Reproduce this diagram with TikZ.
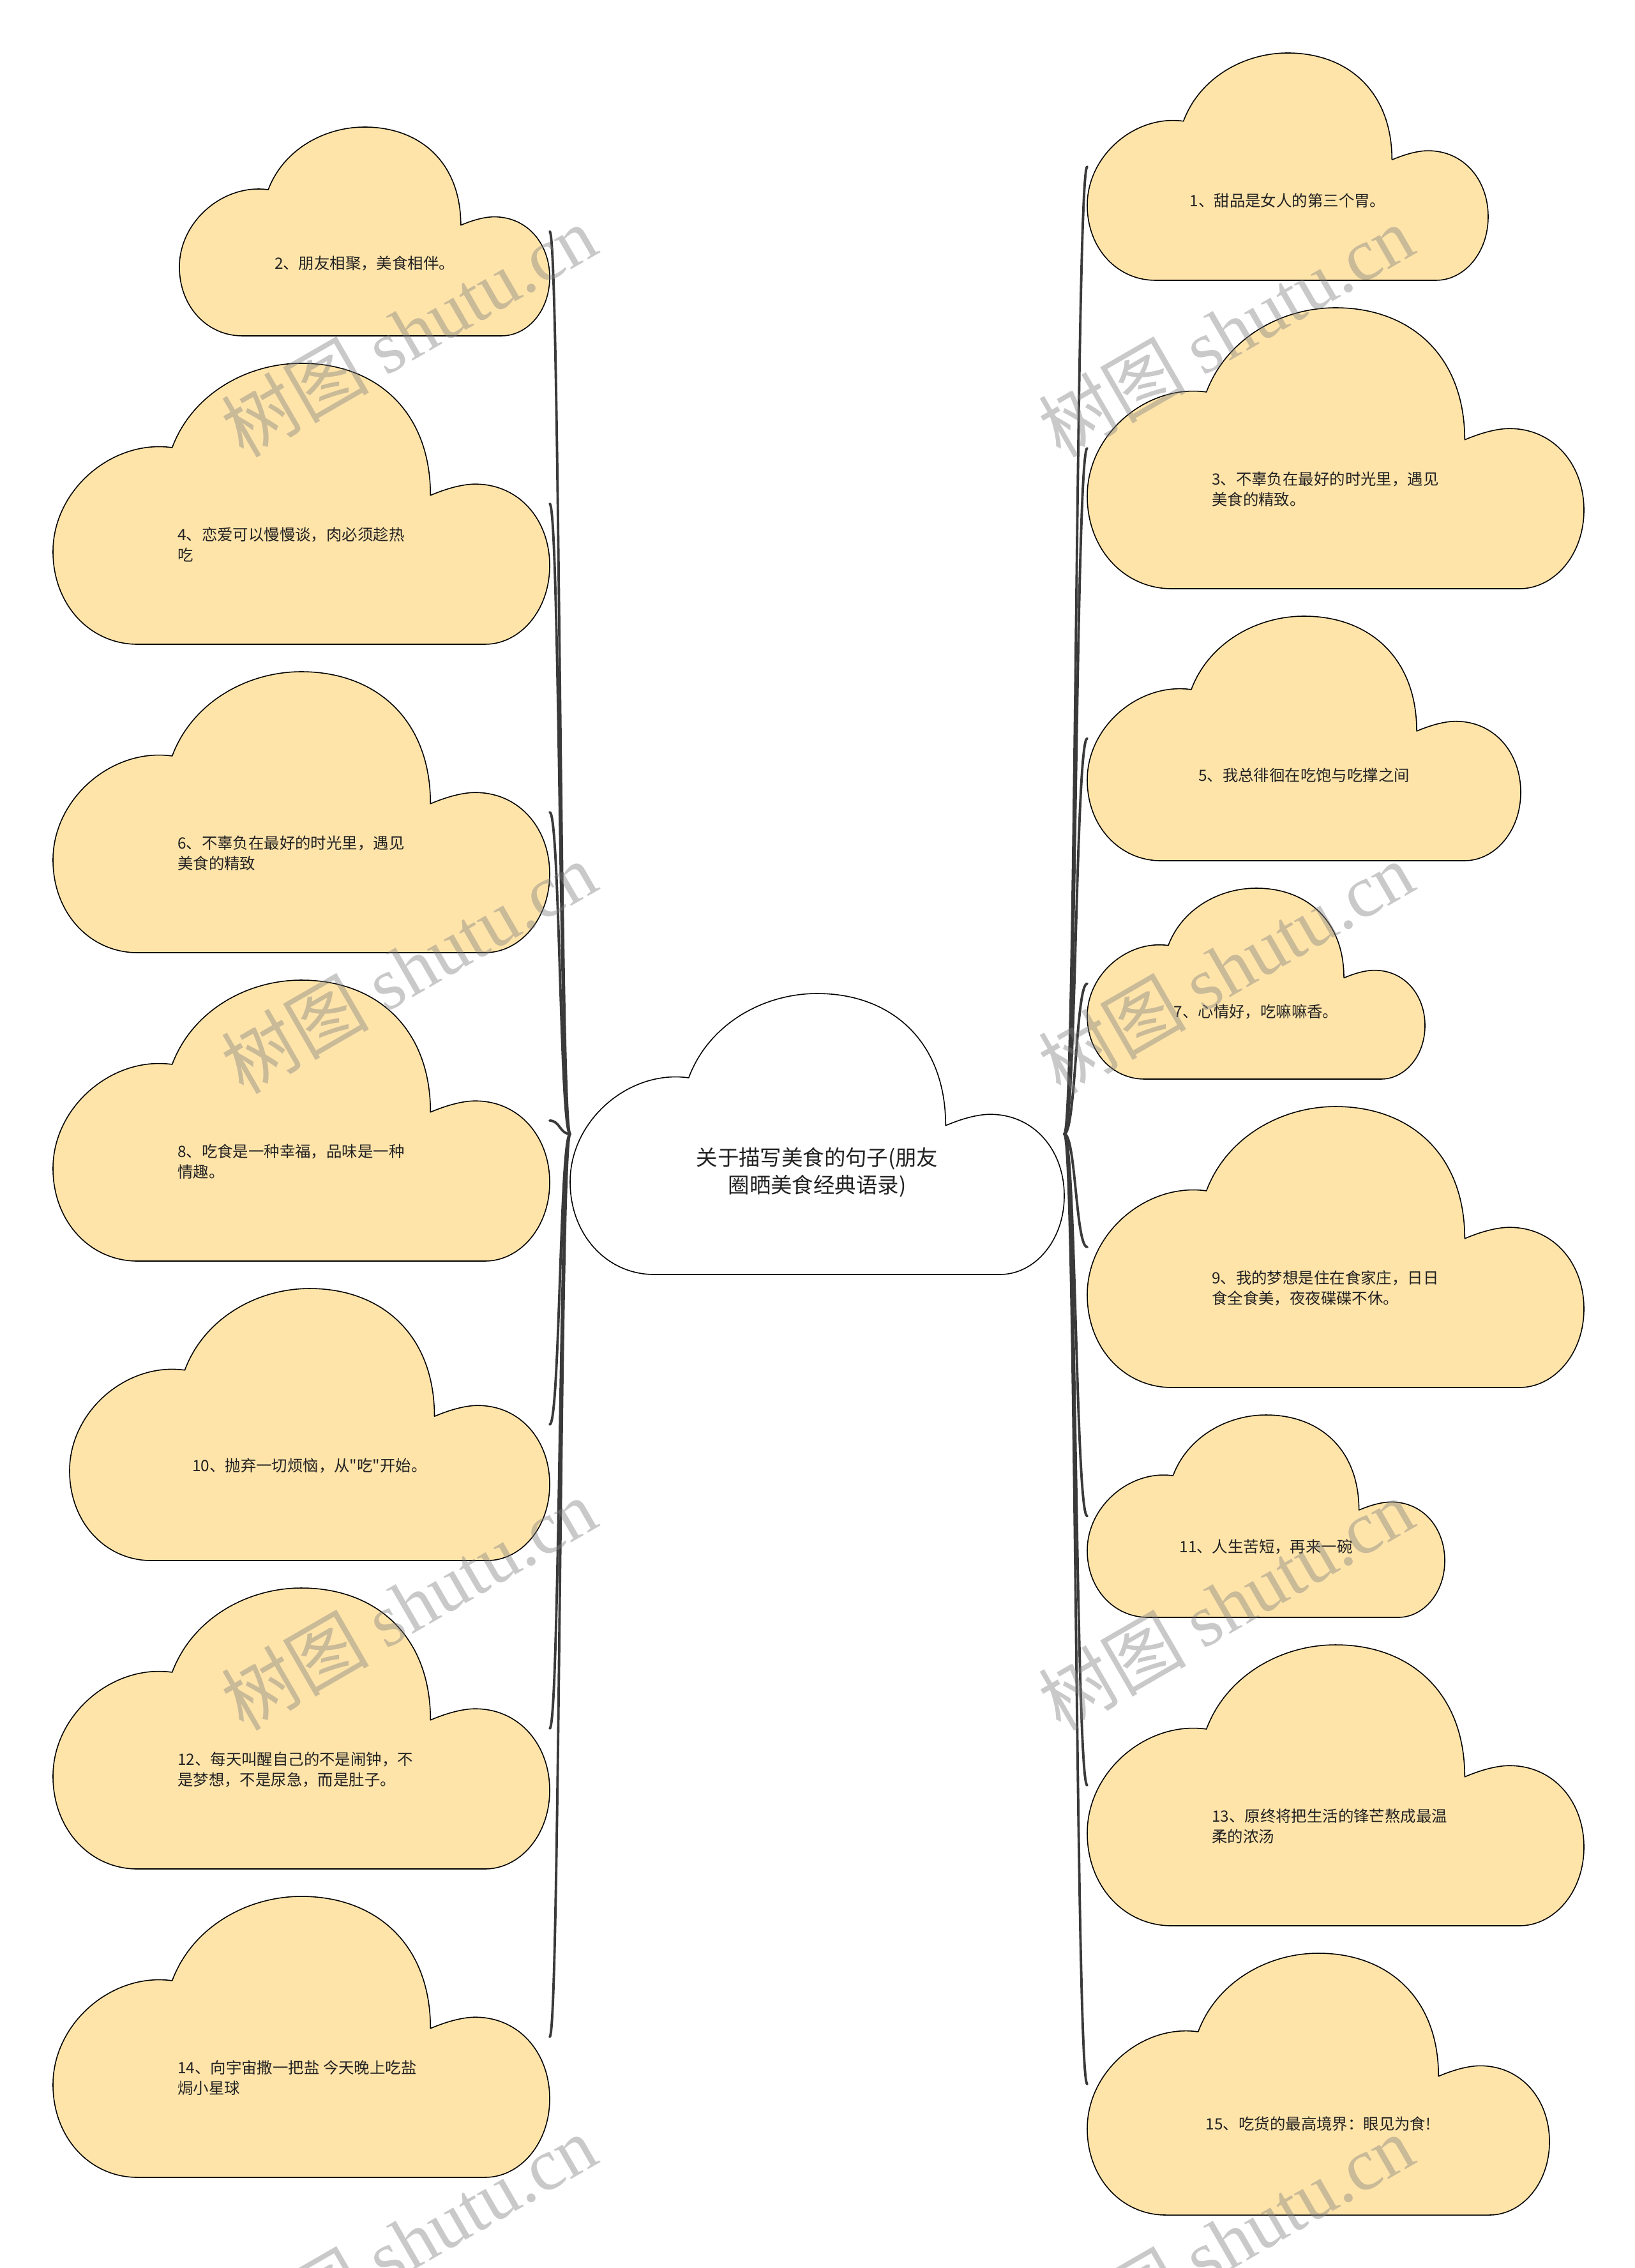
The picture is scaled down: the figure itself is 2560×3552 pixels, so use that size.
\documentclass[tikz,border=0pt]{standalone}
\usepackage{fontspec}
\setmainfont{Noto Sans CJK SC}
\newfontfamily\cjk{Noto Sans CJK SC}
\newfontfamily\wmserif{Liberation Serif}
\usetikzlibrary{calc}
\definecolor{cloudfill}{RGB}{255,228,170}
\definecolor{linegray}{RGB}{58,58,58}
\definecolor{txtcol}{RGB}{34,34,34}
\definecolor{wmgray}{RGB}{128,128,128}

\tikzset{
  cloudbox/.style={draw=none, inner sep=0pt, outer sep=0pt, shape=rectangle},
  cloudline/.style={draw=black, line width=0.45pt, line join=round},
  conn/.style={draw=linegray, line width=1.1pt, line cap=round},
  txt/.style={inner sep=0pt, text=txtcol, font={\cjk\fontsize{6.94pt}{9.1pt}\selectfont}},
  txtl/.style={txt, align=left, anchor=west},
  roottxt/.style={inner sep=0pt, text=txtcol, align=center, font={\cjk\fontsize{9.5pt}{12.2pt}\selectfont}},
  wm/.style={inner sep=0pt, rotate=30, text=wmgray, text opacity=0.42, font={\fontsize{33pt}{33pt}\selectfont}}
}

% #1 name, #2 left x, #3 top y, #4 width, #5 height, #6 fill colour
\newcommand\cloudshape[6]{%
  \pgfmathsetlengthmacro\cloudw{#4*0.01cm}%
  \pgfmathsetlengthmacro\cloudh{#5*0.01cm}%
  \node[cloudbox, minimum width=\cloudw, minimum height=\cloudh, anchor=north west] (#1) at (#2,#3) {};
  \draw[cloudline, fill=#6, shift={(#1.north west)}, xscale=#4, yscale=#5]
    (0.17,1) .. controls (0.075,1) and (0,0.86) .. (0,0.67)
    .. controls (0,0.45) and (0.12,0.27) .. (0.24,0.30)
    .. controls (0.28,0.11) and (0.39,0) .. (0.50,0)
    .. controls (0.65,0) and (0.76,0.17) .. (0.76,0.47)
    .. controls (0.80,0.44) and (0.83,0.43) .. (0.85,0.43)
    .. controls (0.94,0.43) and (1,0.56) .. (1,0.72)
    .. controls (1,0.88) and (0.94,1) .. (0.87,1) -- cycle;
}

\begin{document}
\begin{tikzpicture}[x=0.01cm, y=-0.01cm]
\useasboundingbox (0,0) rectangle (2560,3552);
\fill[white] (0,0) rectangle (2560,3552);

% central cloud
\cloudshape{root}{893}{1556}{774}{440}{white}
\node[roottxt] (roottext) at (1280,1836) {关于描写美食的句子(朋友\\圈晒美食经典语录)};

% left clouds
\cloudshape{c2}{281}{199}{580}{327}{cloudfill}
\cloudshape{c4}{83}{569}{778}{440}{cloudfill}
\cloudshape{c6}{83}{1052}{778}{440}{cloudfill}
\cloudshape{c8}{83}{1535}{778}{440}{cloudfill}
\cloudshape{c10}{109}{2018}{752}{426}{cloudfill}
\cloudshape{c12}{83}{2487}{778}{440}{cloudfill}
\cloudshape{c14}{83}{2970}{778}{440}{cloudfill}

% right clouds
\cloudshape{c1}{1703}{83}{628}{356}{cloudfill}
\cloudshape{c3}{1703}{482}{778}{440}{cloudfill}
\cloudshape{c5}{1703}{965}{679}{383}{cloudfill}
\cloudshape{c7}{1703}{1391}{529}{299}{cloudfill}
\cloudshape{c9}{1703}{1733}{778}{440}{cloudfill}
\cloudshape{c11}{1703}{2216}{560}{317}{cloudfill}
\cloudshape{c13}{1703}{2576}{778}{440}{cloudfill}
\cloudshape{c15}{1703}{3059}{724}{410}{cloudfill}

% texts
\node[txt] (t1) at (2017,314) {1、甜品是女人的第三个胃。};
\node[txt] (t2) at (571,412) {2、朋友相聚，美食相伴。};
\node[txtl] (t3) at (1897.5,766) {3、不辜负在最好的时光里，遇见\\美食的精致。};
\node[txtl] (t4) at (277.5,853) {4、恋爱可以慢慢谈，肉必须趁热\\吃};
\node[txt] (t5) at (2042.5,1214) {5、我总徘徊在吃饱与吃撑之间};
\node[txtl] (t6) at (277.5,1336) {6、不辜负在最好的时光里，遇见\\美食的精致};
\node[txt] (t7) at (1967.5,1585) {7、心情好，吃嘛嘛香。};
\node[txtl] (t8) at (277.5,1819) {8、吃食是一种幸福，品味是一种\\情趣。};
\node[txtl] (t9) at (1897.5,2017) {9、我的梦想是住在食家庄，日日\\食全食美，夜夜碟碟不休。};
\node[txt] (t10) at (485,2295) {10、抛弃一切烦恼，从"吃"开始。};
\node[txt] (t11) at (1983,2422) {11、人生苦短，再来一碗};
\node[txtl] (t12) at (277.5,2771) {12、每天叫醒自己的不是闹钟，不\\是梦想，不是尿急，而是肚子。};
\node[txtl] (t13) at (1897.5,2860) {13、原终将把生活的锋芒熬成最温\\柔的浓汤};
\node[txtl] (t14) at (277.5,3254) {14、向宇宙撒一把盐 今天晚上吃盐\\焗小星球};
\node[txt] (t15) at (2065,3326) {15、吃货的最高境界：眼见为食!};

% connectors
\foreach \n in {c2,c4,c6,c8,c10,c12,c14}
  \draw[conn] (root.west) .. controls +(-16,0) and +(16,0) .. (\n.east);
\foreach \n in {c1,c3,c5,c7,c9,c11,c13,c15}
  \draw[conn] (root.east) .. controls +(18,0) and +(-18,0) .. (\n.west);

% watermarks
\begin{scope}
  \clip (0,0) rectangle (2560,3552);
  \foreach \wx in {640,1920}
    \foreach \wy in {518,1515,2512,3509}
      \node[wm] (wm-\wx-\wy) at (\wx,\wy) {{\cjk 树图} {\wmserif shutu.cn}};
\end{scope}
\end{tikzpicture}
\end{document}
